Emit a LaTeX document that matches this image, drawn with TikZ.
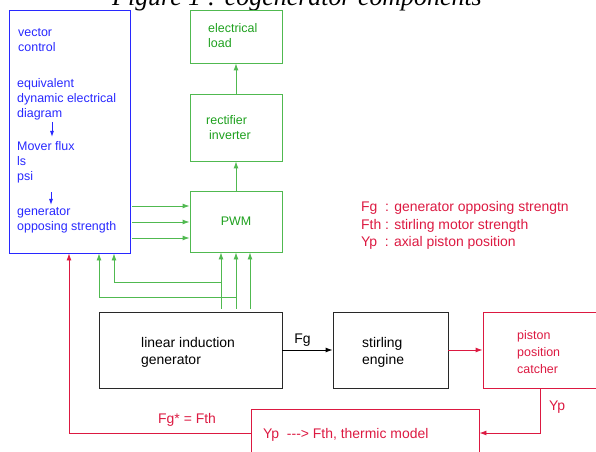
\documentclass[tikz,border=0pt]{standalone}
\usepackage{fontspec}
\setmainfont{Liberation Sans}
\newfontfamily\titlefont{Liberation Serif}
\usetikzlibrary{arrows.meta}
\definecolor{ctrlblue}{RGB}{40,40,255}
\definecolor{pwmgreen}{RGB}{30,160,30}
\definecolor{linegreen}{RGB}{80,185,80}
\definecolor{catchred}{RGB}{220,25,65}
\definecolor{genblack}{RGB}{40,40,40}
\tikzset{
  box/.style={draw, inner sep=0pt, line width=0.9bp},
  gbox/.style={box, draw=linegreen, text=pwmgreen, font=\fontsize{12.5}{15}\selectfont},
  kbox/.style={box, draw=genblack},
  rbox/.style={box, draw=catchred},
  bbox/.style={box, draw=ctrlblue},
  lbl/.style={anchor=base west, align=left, inner sep=0pt},
  btext/.style={lbl, text=ctrlblue, font=\fontsize{12.5}{15.5}\selectfont},
  gtext/.style={lbl, text=pwmgreen, font=\fontsize{12.5}{16}\selectfont},
  ktext/.style={lbl, text=black, font=\fontsize{14}{17}\selectfont},
  rtext/.style={lbl, text=catchred, font=\fontsize{14}{18}\selectfont},
  garrow/.style={draw=linegreen, line width=0.9bp, -{Latex[length=7bp,width=5bp]}, color=linegreen},
  barrow/.style={draw=ctrlblue, line width=0.9bp, -{Latex[length=6bp,width=4bp]}, color=ctrlblue},
  rarrow/.style={draw=catchred, line width=0.9bp, -{Latex[length=7bp,width=5bp]}, color=catchred},
  karrow/.style={draw=black, line width=0.9bp, -{Latex[length=7bp,width=5bp]}},
}
\begin{document}
\begin{tikzpicture}[x=1bp,y=-1bp]
\useasboundingbox (0,0) rectangle (596,452);
% title, cut by the top of the page
\node[anchor=base, inner sep=0pt, font=\titlefont\itshape\fontsize{26}{30}\selectfont] (title) at (297,6) {Figure 1 : cogenerator components};
% boxes
\node[bbox, minimum width=121bp, minimum height=243bp] (ctrl) at (69.5,131.5) {};
\node[gbox, minimum width=92bp, minimum height=53bp] (load) at (236,36.5) {};
\node[gbox, minimum width=92bp, minimum height=67bp] (rect) at (236,127.5) {};
\node[gbox, minimum width=92bp, minimum height=61bp] (pwm) at (236,221.5) {PWM};
\node[kbox, minimum width=183bp, minimum height=76bp] (gen) at (190.5,350) {};
\node[kbox, minimum width=115bp, minimum height=76bp] (stir) at (390.5,350) {};
\node[rbox, minimum width=137bp, minimum height=76bp] (catch) at (551.5,350) {};
\node[rbox, minimum width=228bp, minimum height=61bp] (therm) at (365,439.5) {};
% texts (base = last line)
\node[btext] (vec) at (18,52) {vector\\control};
\node[btext] (eqv) at (17,118) {equivalent\\dynamic electrical\\diagram};
\node[btext] (mov) at (17,181) {Mover flux\\ls\\psi};
\node[btext] (gos) at (17,230.5) {generator\\opposing strength};
\node[gtext] (loadtxt) at (208,48) {electrical\\load};
\node[gtext] (recttxt) at (206,140) {rectifier\\\hspace{3bp}inverter};
\node[ktext] (gentxt) at (141,364) {linear induction\\generator};
\node[ktext] (stirtxt) at (362,364) {stirling\\engine};
\node[rtext, font=\fontsize{12.5}{17}\selectfont] (catchtxt) at (517,373) {piston\\position\\catcher};
\node[rtext] (thermtxt) at (263,438) {Yp\ \ -{}-{}-> Fth, thermic model};
\node[rtext] (legend) at (361,247) {Fg\ \ : generator opposing strengtn\\Fth : stirling motor strength\\Yp\ \ : axial piston position};
% inner arrows of the control box
\coordinate (a1) at (52,122);
\coordinate (a2) at (52,137);
\coordinate (b1) at (51,192);
\coordinate (b2) at (51,205);
\draw[barrow] (a1) -- (a2);
\draw[barrow] (b1) -- (b2);
% green links
\draw[garrow] (rect.north) -- (load.south);
\draw[garrow] (pwm.north) -- (rect.south);
\coordinate (p1) at (0,206);
\coordinate (p2) at (0,222);
\coordinate (p3) at (0,238);
\draw[garrow] ([xshift=2bp]ctrl.east |- p1) -- (pwm.west |- p1);
\draw[garrow] ([xshift=2bp]ctrl.east |- p2) -- (pwm.west |- p2);
\draw[garrow] ([xshift=2bp]ctrl.east |- p3) -- (pwm.west |- p3);
\coordinate (v1) at (221,0);
\coordinate (v2) at (236,0);
\coordinate (v3) at (250,0);
\draw[garrow] ([yshift=3bp]gen.north -| v1) -- (pwm.south -| v1);
\draw[garrow] ([yshift=3bp]gen.north -| v2) -- (pwm.south -| v2);
\draw[garrow] ([yshift=3bp]gen.north -| v3) -- (pwm.south -| v3);
\coordinate (f1) at (114,282);
\coordinate (f2) at (99,297);
\draw[garrow] (v1 |- f1) -- (f1) -- (ctrl.south -| f1);
\draw[garrow] (v2 |- f2) -- (f2) -- (ctrl.south -| f2);
% force and position loop
\draw[karrow] (gen.east) -- node[pos=0.4, above, font=\fontsize{14}{17}\selectfont] (fg) {Fg} (stir.west);
\draw[rarrow] (stir.east) -- (catch.west);
\coordinate (yp) at (540,433);
\draw[rarrow] (catch.south -| yp) -- (yp) -- (therm.east |- yp);
\node[rtext] (yptxt) at (549,410) {Yp};
\coordinate (fb) at (69,433);
\draw[rarrow] (therm.west |- yp) -- (fb) -- (ctrl.south -| fb);
\node[rtext] (fgtxt) at (158,423) {Fg* = Fth};
\end{tikzpicture}
\end{document}
